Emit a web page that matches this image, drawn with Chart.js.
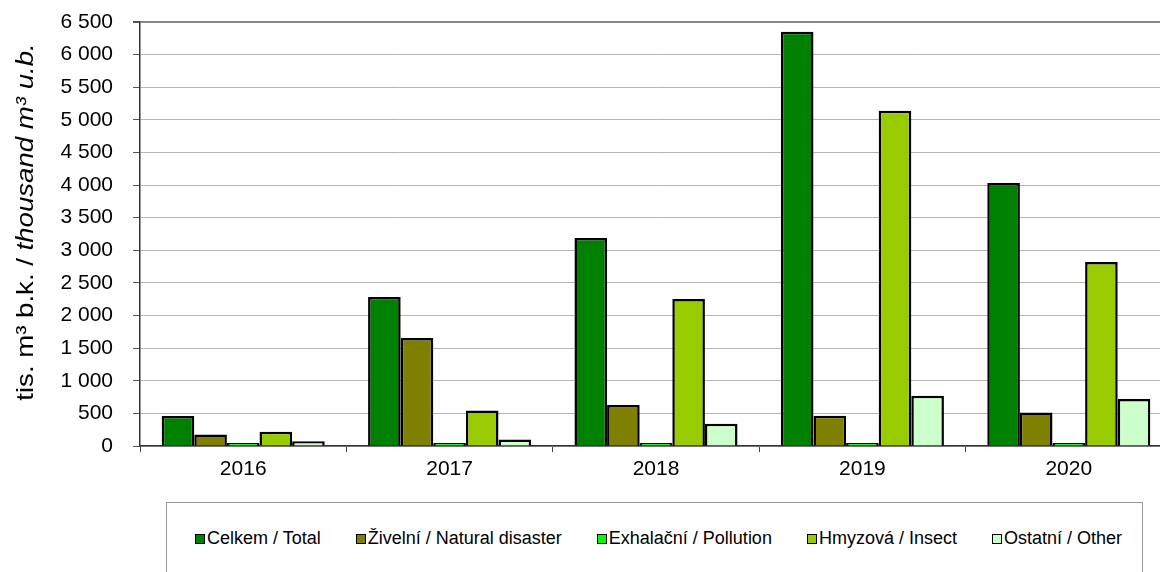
<!DOCTYPE html>
<html>
<head>
<meta charset="utf-8">
<script src="https://cdn.jsdelivr.net/npm/chart.js@4.4.0/dist/chart.umd.min.js"></script>
<style>
    html, body { margin: 0; padding: 0; background: #fff; }
    body { width: 1160px; height: 572px; overflow: hidden; position: relative; font-family: "Liberation Sans", Arial, sans-serif; }
    #wrap { position: absolute; left: 0; top: 0; width: 1172px; height: 490px; }
    #legenda {
        position: absolute; left: 166px; top: 502px; width: 977px; height: 100px;
        border: 1px solid #999; box-sizing: border-box;
        display: flex; justify-content: center; align-items: flex-start; gap: 35px;
        padding-top: 25px; padding-left: 8px; font-size: 18px; color: #000;
    }
    .polozka { display: flex; align-items: center; white-space: nowrap; }
    .znacka { width: 8px; height: 8px; border: 1.5px solid #000; margin-right: 2px; }
</style>
</head>
<body>
<div id="wrap"><canvas id="graf"></canvas></div>
<div id="legenda"></div>

<script>
const roky = ['2016', '2017', '2018', '2019', '2020'];
const celkem = [460, 2285, 3190, 6350, 4030];
const zivelni = [175, 1655, 628, 465, 515];
const exhalacni = [8, 10, 9, 11, 7];
const hmyzova = [217, 546, 2255, 5140, 2820];
const ostatni = [72, 98, 340, 772, 721];

const nazvy = ['Celkem / Total', 'Živelní / Natural disaster', 'Exhalační / Pollution', 'Hmyzová / Insect', 'Ostatní / Other'];
const barvy = ['#008000', '#808000', '#00ff00', '#99cc00', '#ccffcc'];
const yMax = 6500;
const yKrok = 500;

function mezery(v) {
    return String(v).replace(/\B(?=(\d{3})+(?!\d))/g, ' ');
}

// popisek osy y: cast normalne, cast kurzivou
const popisekY = {
    id: 'popisekY',
    afterDraw(chart) {
        const ctx = chart.ctx;
        const cast1 = 'tis. m\u00b3 b.k. / ';
        const cast2 = 'thousand m\u00b3 u.b.';
        const f1 = '24px "Liberation Sans", Arial';
        const f2 = 'italic 24px "Liberation Sans", Arial';
        ctx.save();
        ctx.font = f1;
        const w1 = ctx.measureText(cast1).width;
        ctx.font = f2;
        const w2 = ctx.measureText(cast2).width;
        ctx.translate(33, 222);
        ctx.rotate(-Math.PI / 2);
        ctx.scale(1.15, 1);
        ctx.fillStyle = '#000';
        ctx.textBaseline = 'alphabetic';
        ctx.textAlign = 'left';
        const x0 = -(w1 + w2) / 2;
        ctx.font = f1;
        ctx.fillText(cast1, x0, 0);
        ctx.font = f2;
        ctx.fillText(cast2, x0 + w1, 0);
        ctx.restore();
    }
};

const datasety = [celkem, zivelni, exhalacni, hmyzova, ostatni].map((d, i) => ({
    label: nazvy[i],
    data: d,
    backgroundColor: barvy[i],
    borderColor: '#000',
    borderWidth: 2.5,
    minBarLength: 3,
    categoryPercentage: 0.79,
    barPercentage: 1.0
}));

const graf = new Chart(document.getElementById('graf'), {
    type: 'bar',
    data: { labels: roky, datasets: datasety },
    options: {
        responsive: true,
        maintainAspectRatio: false,
        animation: false,
        layout: { padding: { top: 22, right: 0, left: 0, bottom: 0 } },
        plugins: {
            legend: { display: false },
            tooltip: { enabled: false }
        },
        scales: {
            x: {
                offset: true,
                grid: { offset: true, drawOnChartArea: false, tickLength: 6, color: '#444' },
                border: { color: '#333', width: 1.5 },
                ticks: { color: '#000', font: { size: 21, family: '"Liberation Sans", Arial' }, padding: 5 },
                afterFit(scale) { scale.height = 44; }
            },
            y: {
                min: 0,
                max: yMax,
                grid: {
                    color: ctx => ctx.tick && ctx.tick.value === yMax ? '#888' : '#b4b4b4',
                    lineWidth: ctx => ctx.tick && ctx.tick.value === yMax ? 2 : 1,
                    tickColor: '#555',
                    tickLength: 7
                },
                border: { color: '#333', width: 1.5 },
                ticks: {
                    stepSize: yKrok,
                    color: '#000',
                    padding: 20,
                    font: { size: 21, family: '"Liberation Sans", Arial' },
                    callback: v => mezery(v)
                },
                afterFit(scale) {
                    scale.width = 140;
                    scale.paddingTop = 0;
                    scale.paddingBottom = 0;
                }
            }
        }
    },
    plugins: [popisekY]
});

// legenda v ramecku pod grafem
const legenda = document.getElementById('legenda');
graf.data.datasets.forEach(ds => {
    const el = document.createElement('div');
    el.className = 'polozka';
    const z = document.createElement('span');
    z.className = 'znacka';
    z.style.background = ds.backgroundColor;
    const t = document.createElement('span');
    t.textContent = ds.label;
    el.appendChild(z);
    el.appendChild(t);
    legenda.appendChild(el);
});
</script>
</body>
</html>
